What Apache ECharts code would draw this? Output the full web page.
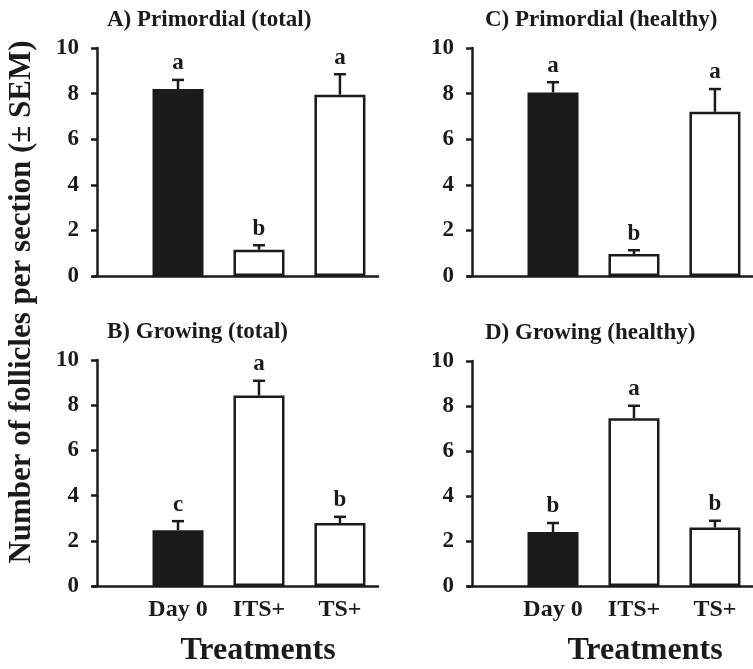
<!DOCTYPE html>
<html>
<head>
<meta charset="utf-8">
<script src="https://cdn.jsdelivr.net/npm/echarts@6/dist/echarts.min.js"></script>
<style>html,body{margin:0;padding:0;background:#fff}#c{width:753px;height:669px}</style>
</head>
<body>
<div id="c"></div>
<script>
const categories = ['Day 0', 'ITS+', 'TS+'];
const panelTitles = ['A) Primordial (total)', 'B) Growing (total)', 'C) Primordial (healthy)', 'D) Growing (healthy)'];
const meansA = [8.2, 1.15, 7.95];
const semA = [0.4, 0.2, 0.9];
const lettersA = ['a', 'b', 'a'];
const meansB = [2.47, 8.43, 2.79];
const semB = [0.4, 0.65, 0.27];
const lettersB = ['c', 'a', 'b'];
const meansC = [8.05, 0.96, 7.2];
const semC = [0.45, 0.17, 1.0];
const lettersC = ['a', 'b', 'a'];
const meansD = [2.4, 7.46, 2.6];
const semD = [0.4, 0.55, 0.3];
const lettersD = ['b', 'a', 'b'];
const yMin = 0, yMax = 10, yInterval = 2;
const yTitle = 'Number of follicles per section (\u00b1 SEM)';
const xTitle = 'Treatments';

const INK = '#1c1a1b';
const FONT = "'Liberation Serif', 'Times New Roman', serif";

const panels = [
  { means: meansA, sem: semA, letters: lettersA, grid: { left: 93, top: 48, width: 285, height: 228 }, showX: false },
  { means: meansB, sem: semB, letters: lettersB, grid: { left: 93, top: 360, width: 285, height: 226 }, showX: true },
  { means: meansC, sem: semC, letters: lettersC, grid: { left: 468, top: 48, width: 285, height: 228 }, showX: false },
  { means: meansD, sem: semD, letters: lettersD, grid: { left: 468, top: 361, width: 285, height: 225 }, showX: true }
];

const grids = [], xAxes = [], yAxes = [], series = [];
panels.forEach((p, i) => {
  grids.push(p.grid);
  xAxes.push({
    type: 'value', gridIndex: i, min: -0.05, max: 3.47,
    splitLine: { show: false },
    axisTick: { show: false },
    axisLine: { show: true, onZero: false, lineStyle: { color: INK, width: 2.5 } },
    axisLabel: {
      show: p.showX, customValues: [1, 2, 3],
      formatter: v => categories[Math.round(v) - 1] || '',
      color: INK, fontFamily: FONT, fontWeight: 'bold', fontSize: 24, margin: 12
    }
  });
  yAxes.push({
    type: 'value', gridIndex: i, min: yMin, max: yMax, interval: yInterval,
    splitLine: { show: false },
    axisLine: { show: true, lineStyle: { color: INK, width: 2.5 } },
    axisTick: { show: true, length: 6, lineStyle: { color: INK, width: 2.5 } },
    axisLabel: { color: INK, fontFamily: FONT, fontWeight: 'bold', fontSize: 23, margin: 14 }
  });
  series.push({
    type: 'bar', xAxisIndex: i, yAxisIndex: i, barWidth: 51,
    data: p.means.map((m, k) => ({
      value: [k + 1, m],
      itemStyle: { color: k === 0 ? INK : '#ffffff', borderColor: INK, borderWidth: 2.5 }
    })),
    silent: true
  });
  series.push({
    type: 'custom', xAxisIndex: i, yAxisIndex: i, z: 5,
    data: p.means.map((m, k) => [k + 1, m, p.sem[k], k]),
    renderItem: function (params, api) {
      const x = api.value(0), y = api.value(1), e = api.value(2), k = api.value(3);
      const base = api.coord([x, y]);
      const top = api.coord([x, y + e]);
      const half = 6;
      return {
        type: 'group',
        children: [
          { type: 'line', shape: { x1: base[0], y1: base[1], x2: top[0], y2: top[1] }, style: { stroke: INK, lineWidth: 2.5 } },
          { type: 'line', shape: { x1: top[0] - half, y1: top[1], x2: top[0] + half, y2: top[1] }, style: { stroke: INK, lineWidth: 2.5 } },
          { type: 'text', x: top[0], y: top[1] - 5,
            style: { text: p.letters[k], fill: INK, font: 'bold 23px ' + FONT, textAlign: 'center', textVerticalAlign: 'bottom' } }
        ]
      };
    },
    silent: true
  });
});

const graphics = [
  { type: 'text', x: 107, y: 9, style: { text: panelTitles[0], fill: INK, font: 'bold 23px ' + FONT } },
  { type: 'text', x: 107, y: 321, style: { text: panelTitles[1], fill: INK, font: 'bold 23px ' + FONT } },
  { type: 'text', x: 485, y: 9, style: { text: panelTitles[2], fill: INK, font: 'bold 23px ' + FONT } },
  { type: 'text', x: 485, y: 322, style: { text: panelTitles[3], fill: INK, font: 'bold 23px ' + FONT } },
  { type: 'text', x: 258, y: 651, style: { text: xTitle, fill: INK, font: 'bold 32px ' + FONT, textAlign: 'center', textVerticalAlign: 'middle' } },
  { type: 'text', x: 645, y: 651, style: { text: xTitle, fill: INK, font: 'bold 32px ' + FONT, textAlign: 'center', textVerticalAlign: 'middle' } },
  { type: 'text', x: 22, y: 302, rotation: Math.PI / 2, style: { text: yTitle, fill: INK, font: 'bold 31px ' + FONT, textAlign: 'center', textVerticalAlign: 'middle' } }
];

const chart = echarts.init(document.getElementById('c'), null, { renderer: 'canvas' });
chart.setOption({
  animation: false,
  backgroundColor: '#ffffff',
  grid: grids, xAxis: xAxes, yAxis: yAxes, series: series, graphic: graphics
});
</script>
</body>
</html>
